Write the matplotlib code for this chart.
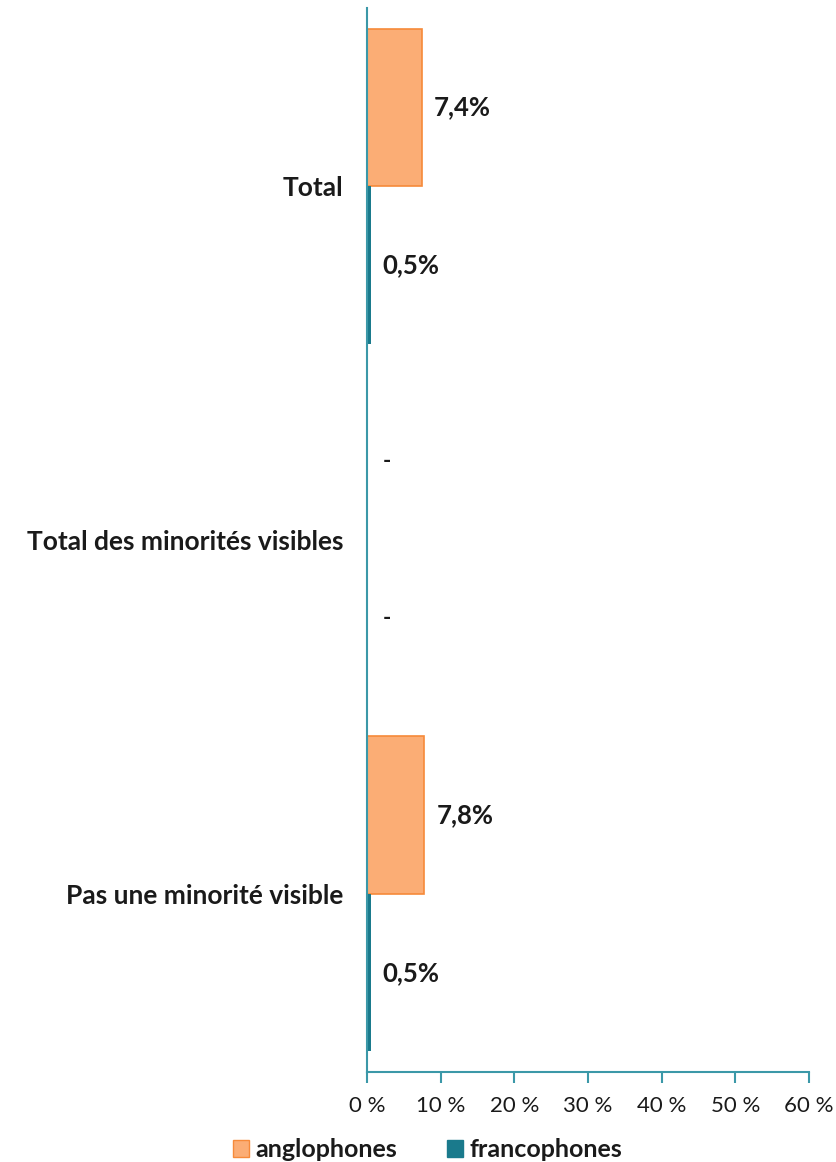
import numpy as np
import matplotlib.pyplot as plt
from matplotlib.patches import Patch

# ======================
# DONNÉES
# ======================
categories = ["Total", "Total des minorités visibles", "Pas une minorité visible"]
anglophones = [7.4, np.nan, 7.8]
francophones = [0.5, np.nan, 0.5]
x_ticks = [0, 10, 20, 30, 40, 50, 60]

# ======================
# COULEURS
# ======================
C_ANG = "#fbad75"
C_ANG_EDGE = "#f68a3a"
C_FRA = "#1a7a8c"
C_AXIS = "#3b98a8"
C_TEXT = "#1a1a1a"

plt.rcParams["font.family"] = ["Lato", "DejaVu Sans"]

fig = plt.figure(figsize=(8.37, 11.62), dpi=100)
ax = fig.add_axes([0.4385, 0.0775, 0.528, 0.9155])

y = np.arange(len(categories))
h = 0.445

def fmt(v):
    return f"{v:.1f}%".replace(".", ",")

ang = np.nan_to_num(anglophones)
fra = np.nan_to_num(francophones)
ax.barh(y - h / 2, ang, height=h, color=C_ANG, edgecolor=C_ANG_EDGE, linewidth=1.2)
ax.barh(y + h / 2, fra, height=h, color=C_FRA, linewidth=0)

# étiquettes de données
for i in range(len(categories)):
    for val, off in ((anglophones[i], -h / 2), (francophones[i], h / 2)):
        if np.isnan(val):
            ax.text(2.2, y[i] + off, "-", ha="left", va="center",
                    fontsize=16, fontweight="bold", color=C_TEXT)
        else:
            ax.text(val + 1.6, y[i] + off, fmt(val), ha="left", va="center",
                    fontsize=18.5, fontweight="bold", color=C_TEXT)

ax.set_ylim(2.503, -0.503)
ax.set_xlim(0, 60)
ax.set_yticks(y)
ax.set_yticklabels(categories, fontsize=19, fontweight="bold", color=C_TEXT)
ax.tick_params(axis="y", length=0, pad=17)
ax.set_xticks(x_ticks)
ax.set_xticklabels([f"{t} %" for t in x_ticks], fontsize=16, color=C_TEXT)
ax.tick_params(axis="x", length=8, width=1.5, color=C_AXIS, pad=9)

for s in ("top", "right"):
    ax.spines[s].set_visible(False)
for s in ("left", "bottom"):
    ax.spines[s].set_color(C_AXIS)
    ax.spines[s].set_linewidth(1.5)

handles = [Patch(facecolor=C_ANG, edgecolor=C_ANG_EDGE, label="anglophones"),
           Patch(facecolor=C_FRA, edgecolor=C_FRA, label="francophones")]
leg = fig.legend(handles=handles, loc="center", bbox_to_anchor=(0.511, 0.0105),
                 ncol=2, frameon=False, handlelength=0.65, handleheight=0.65,
                 handletextpad=0.25, columnspacing=2.0,
                 prop={"size": 18, "weight": "bold"})
for t in leg.get_texts():
    t.set_color(C_TEXT)

fig.savefig("out.png", dpi=100, facecolor="white")
